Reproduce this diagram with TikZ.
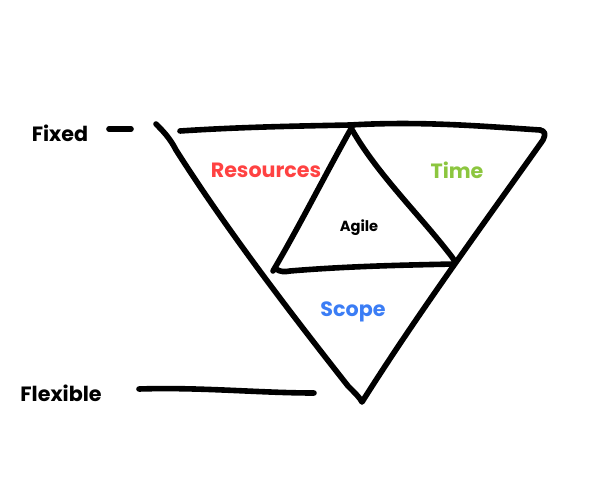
\documentclass[tikz,border=0pt]{standalone}
\usepackage{fontspec}
\setmainfont{Poppins}
\definecolor{resred}{HTML}{FF4242}
\definecolor{timegreen}{HTML}{8CC63F}
\definecolor{scopeblue}{HTML}{3B7DF5}
\tikzset{
  ink/.style={line width=4.2pt, line cap=round, line join=round, black},
  lbl/.style={font=\bfseries\fontsize{15.5}{18}\selectfont, inner sep=0pt},
  small/.style={font=\bfseries\fontsize{11}{12}\selectfont, inner sep=0pt}
}
\begin{document}
\begin{tikzpicture}[x=0.75pt,y=-0.75pt]
\useasboundingbox (0,0) rectangle (594,504);
% outer left side down to bottom tip, then right side up
\draw[ink] (156,124) .. controls (162,130) and (170,138) .. (176,150)
  .. controls (230,235) and (300,325) .. (348,386)
  .. controls (356,394) and (360,398) .. (362,402)
  .. controls (420,310) and (490,215) .. (543,140)
  .. controls (546,134) and (545,131) .. (540,130);
% top line
\draw[ink] (180,131) .. controls (240,127) and (300,126) .. (350,125)
  .. controls (420,121) and (480,126) .. (540,130);
% inner triangle
\draw[ink] (352,127) .. controls (325,175) and (300,225) .. (273,271);
\draw[ink] (350,126) .. controls (375,172) and (420,215) .. (452,257)
  .. controls (455,261) and (455,263) .. (454,264);
\draw[ink] (276,269) .. controls (280,272) and (285,272) .. (290,271)
  .. controls (350,266) and (410,265) .. (454,264);
% left labels
\node[lbl] (fixed) at (60,133) {Fixed};
\coordinate (fa) at (109,129);
\coordinate (fb) at (131,129);
\draw[ink] (fa) -- (fb);
\node[lbl] (flex) at (61,393) {Flexible};
\coordinate (la) at (139,389);
\coordinate (lb) at (314,393);
\draw[ink] (la) .. controls (200,387) and (260,393) .. (lb);
% region labels
\node[lbl, text=resred] (res) at (266,170) {Resources};
\node[lbl, text=timegreen] (time) at (457,170) {Time};
\node[small] (agile) at (359,228) {Agile};
\node[lbl, text=scopeblue] (scope) at (353,312) {Scope};
\end{tikzpicture}
\end{document}
